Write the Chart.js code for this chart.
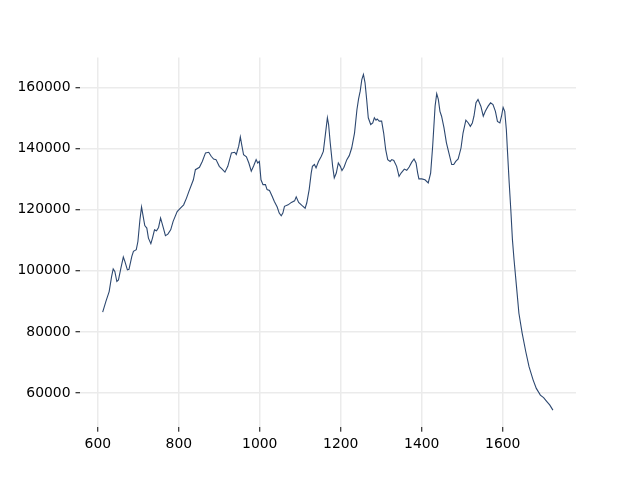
<!DOCTYPE html>
<html>
<head>
<meta charset="utf-8">
<script src="https://cdn.jsdelivr.net/npm/chart.js@4"></script>
<style>
  html, body { margin: 0; padding: 0; background: #fff; }
  #wrap { width: 640px; height: 480px; }
</style>
</head>
<body>
<div id="wrap"><canvas id="chart" width="640" height="480"></canvas></div>
<script>
// values
const xValues = [
  612, 620, 628, 634, 638, 642, 647, 651, 657, 663, 667, 673, 677, 684, 688, 695, 699, 704, 708, 712,
  716, 721, 725, 731, 735, 740, 745, 750, 755, 762, 767, 773, 780, 786, 796, 804, 812, 819, 825, 836,
  841, 851, 858, 866, 874, 880, 886, 892, 900, 907, 914, 921, 930, 938, 942, 948, 952, 956, 960, 967,
  973, 979, 985, 991, 995, 999, 1003, 1008, 1014, 1018, 1024, 1030, 1036, 1043, 1048, 1053, 1057, 1061, 1070, 1078,
  1086, 1090, 1096, 1104, 1112, 1116, 1122, 1127, 1130, 1135, 1139, 1145, 1152, 1157, 1162, 1167, 1170, 1174, 1180, 1184,
  1189, 1194, 1199, 1203, 1208, 1215, 1221, 1227, 1234, 1240, 1244, 1248, 1252, 1256, 1260, 1264, 1268, 1274, 1279, 1283,
  1287, 1290, 1295, 1301, 1306, 1311, 1316, 1322, 1326, 1331, 1338, 1344, 1349, 1357, 1363, 1369, 1375, 1381, 1386, 1390,
  1393, 1400, 1408, 1416, 1422, 1427, 1433, 1437, 1441, 1445, 1449, 1455, 1461, 1467, 1474, 1479, 1484, 1490, 1497, 1502,
  1509, 1515, 1520, 1525, 1529, 1534, 1539, 1546, 1552, 1557, 1564, 1570, 1576, 1582, 1587, 1593, 1597, 1601, 1605, 1609,
  1612, 1616, 1620, 1624, 1628, 1634, 1640, 1648, 1657, 1665, 1675, 1683, 1693, 1701, 1709, 1716, 1724
];
const yValues = [
  86500, 90000, 93200, 98100, 100600, 99800, 96500, 97000, 100900, 104500, 103000, 100300, 100500, 104700, 106400, 106900, 109600, 116700, 120900, 117800,
  114800, 114000, 110700, 108900, 110700, 113400, 113100, 114200, 117300, 114000, 111500, 112000, 113400, 116200, 119400, 120500, 121600, 123800, 126000, 129800,
  133100, 133900, 135800, 138600, 138800, 137500, 136600, 136400, 134200, 133300, 132300, 134200, 138600, 138800, 138100, 140800, 143800, 140800, 138000, 137300,
  135300, 132600, 134400, 136400, 135300, 135800, 129800, 128200, 128200, 126600, 126300, 124600, 122700, 120900, 118900, 118000, 118900, 121100, 121600, 122400,
  122900, 124200, 122400, 121400, 120500, 122200, 126600, 132000, 134200, 134800, 133700, 135800, 137500, 139100, 144600, 150100, 147900, 141900, 134200, 130400,
  132000, 135300, 134200, 132800, 133900, 136400, 137700, 140200, 145100, 152800, 156300, 158800, 162600, 164300, 161500, 156100, 150100, 147900, 148400, 150100,
  149300, 149700, 149000, 149000, 145100, 139700, 136400, 135800, 136400, 136100, 134200, 130900, 132000, 133300, 132900, 134000, 135500, 136600, 135300, 132000,
  130100, 130100, 129800, 128800, 132000, 140800, 153900, 158000, 156100, 152200, 150600, 146800, 141900, 138600, 134800, 134800, 135800, 136600, 140200, 145100,
  149300, 148400, 147300, 148400, 150600, 155000, 156100, 153900, 150600, 152200, 153900, 155000, 154400, 152200, 148900, 148400, 150600, 153500, 152200, 146200,
  138600, 128800, 120000, 110200, 103600, 94900, 86100, 79600, 73500, 68600, 64300, 61500, 59300, 58500, 57200, 56100, 54400
];
const xTicks = [600, 800, 1000, 1200, 1400, 1600];
const yTicks = [60000, 80000, 100000, 120000, 140000, 160000];

const points = xValues.map((x, i) => ({ x: x, y: yValues[i] }));

const tickFont = { family: "DejaVu Sans", size: 13.9 };

new Chart(document.getElementById("chart").getContext("2d"), {
  type: "line",
  data: {
    datasets: [{
      data: points,
      borderColor: "#2d4870",
      borderWidth: 1.1,
      pointRadius: 0,
      tension: 0,
      fill: false
    }]
  },
  options: {
    responsive: false,
    animation: false,
    layout: { padding: { top: 57.6, right: 64, bottom: 0, left: 0 } },
    plugins: { legend: { display: false }, tooltip: { enabled: false } },
    scales: {
      x: {
        type: "linear",
        min: 556,
        max: 1781,
        afterBuildTicks: (s) => { s.ticks = xTicks.map(v => ({ value: v })); },
        afterFit: (s) => { s.height = 52.8; },
        border: { display: false },
        grid: { color: "#ebebeb", lineWidth: 1.5, tickColor: "#000", tickWidth: 1, tickLength: 4.5 },
        ticks: { color: "#000", font: tickFont, padding: 4, maxRotation: 0, callback: (v) => String(v) }
      },
      y: {
        type: "linear",
        min: 48800,
        max: 169800,
        afterBuildTicks: (s) => { s.ticks = yTicks.map(v => ({ value: v })); },
        afterFit: (s) => { s.width = 80; },
        border: { display: false },
        grid: { color: "#ebebeb", lineWidth: 1.5, tickColor: "#000", tickWidth: 1, tickLength: 4.5 },
        ticks: { color: "#000", font: tickFont, padding: 5, callback: (v) => String(v) }
      }
    }
  }
});
</script>
</body>
</html>
